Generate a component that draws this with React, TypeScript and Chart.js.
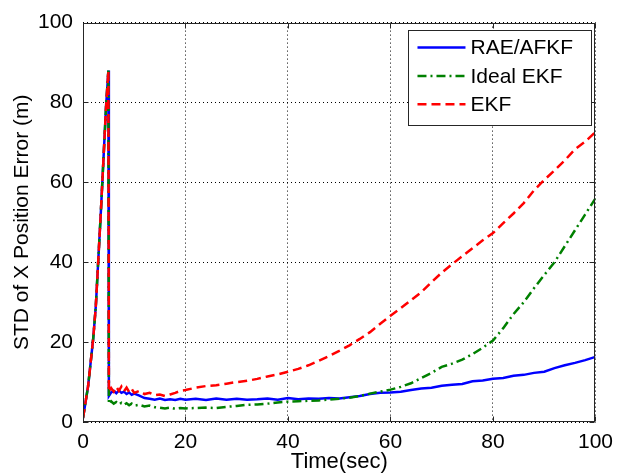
import React, { useEffect, useRef } from "react";
import { Chart, registerables } from "chart.js";

Chart.register(...registerables);

// ---- Data ----
const TIME = [
  0, 0.5, 1, 1.5, 2, 2.5, 3, 3.5, 4, 4.5, 4.95, 5.05,
  5.5, 6, 6.5, 7, 7.5, 8, 8.5, 9, 9.5, 10,
  11, 12, 13, 14, 15, 16, 17, 18, 19, 20,
  22, 24, 26, 28, 30, 32, 34, 36, 38, 40,
  42, 44, 46, 48, 50, 52, 54, 56, 58, 60,
  62, 64, 66, 68, 70, 72, 74, 76, 78, 80,
  82, 84, 86, 88, 90, 92, 94, 96, 98, 100,
];

const RAE_AFKF = [
  1, 5, 9, 15, 21, 29, 41, 53, 66, 79, 88, 6.5,
  7.4, 7.8, 7.2, 7.9, 7.3, 7.6, 7.0, 7.4, 6.8, 7.1,
  6.6, 6.0, 5.8, 5.6, 5.9, 5.5, 5.7, 5.5, 5.8, 5.6,
  5.8, 5.5, 5.9, 5.6, 5.8, 5.6, 5.7, 5.9, 5.6, 6.0,
  5.7, 5.9, 5.8, 6.0, 5.9, 6.2, 6.5, 7.0, 7.3, 7.4,
  7.6, 8.0, 8.4, 8.6, 9.1, 9.3, 9.5, 10.2, 10.4, 10.8,
  11.0, 11.6, 11.8, 12.3, 12.6, 13.5, 14.2, 14.8, 15.5, 16.3,
];

const IDEAL_EKF = [
  1, 5, 9, 15, 21, 29, 41, 53, 66, 79, 88, 4.5,
  5.2, 4.6, 5.0, 4.4, 4.8, 4.3, 4.7, 4.2, 4.6, 4.1,
  4.3, 3.9, 4.1, 3.7, 3.6, 3.4, 3.6, 3.3, 3.5, 3.4,
  3.5, 3.6, 3.5, 3.8, 4.0, 4.3, 4.4, 4.6, 4.9, 5.1,
  5.2, 5.3, 5.4, 5.6, 5.8, 6.1, 6.5, 7.1, 7.6, 8.1,
  8.8, 9.7, 11.0, 12.3, 13.8, 14.6, 15.6, 17.0, 18.6, 20.4,
  23.5, 27.0, 30.0, 33.5, 36.8, 40.0, 44.0, 48.0, 52.0, 56.0,
];

const EKF = [
  1, 5, 9, 15, 21, 29, 41, 53, 66, 79, 88, 7.5,
  8.5, 7.6, 8.8, 7.8, 8.9, 7.7, 8.6, 7.5, 8.3, 7.3,
  7.8, 7.0, 7.3, 6.7, 6.9, 6.5, 6.9, 7.3, 7.8, 8.0,
  8.6, 9.0, 9.2, 9.6, 10.0, 10.3, 10.8, 11.4, 11.9, 12.6,
  13.3, 14.2, 15.3, 16.5, 17.8, 19.2, 20.8, 22.5, 24.6, 26.6,
  28.5, 30.5, 32.5, 35.0, 37.4, 39.5, 41.5, 43.5, 45.5, 47.3,
  49.8, 52.2, 54.8, 58.0, 60.6, 63.0, 65.5, 68.3, 70.2, 72.6,
];

const SERIES_NAMES = ["RAE/AFKF", "Ideal EKF", "EKF"];
const X_TICKS = [0, 20, 40, 60, 80, 100];
const Y_TICKS = [0, 20, 40, 60, 80, 100];
const X_TITLE = "Time(sec)";
const Y_TITLE = "STD of X Position Error (m)";

const FONT = "'Liberation Sans', Arial, Helvetica, sans-serif";
const AXIS_COLOR = "#262626";

const toPoints = (ys: number[]) => TIME.map((t, i) => ({ x: t, y: ys[i] }));

const framePlugin = {
  id: "matlabFrame",
  afterDatasetsDraw(chart: any) {
    const { ctx, chartArea } = chart;
    const xs = chart.scales.x;
    const ys = chart.scales.y;
    const l = Math.round(chartArea.left) + 0.5;
    const r = Math.round(chartArea.right) - 0.5;
    const t = Math.round(chartArea.top) + 0.5;
    const b = Math.round(chartArea.bottom) - 0.5;
    ctx.save();
    ctx.setLineDash([]);
    ctx.strokeStyle = AXIS_COLOR;
    ctx.lineWidth = 1;
    ctx.strokeRect(l, t, r - l, b - t);
    const len = 5;
    ctx.beginPath();
    X_TICKS.forEach((v) => {
      const px = Math.round(xs.getPixelForValue(v)) + 0.5;
      ctx.moveTo(px, b);
      ctx.lineTo(px, b - len);
      ctx.moveTo(px, t);
      ctx.lineTo(px, t + len);
    });
    Y_TICKS.forEach((v) => {
      const py = Math.round(ys.getPixelForValue(v)) + 0.5;
      ctx.moveTo(l, py);
      ctx.lineTo(l + len, py);
      ctx.moveTo(r, py);
      ctx.lineTo(r - len, py);
    });
    ctx.stroke();
    ctx.restore();
  },
};

const legendPlugin = {
  id: "matlabLegend",
  afterDraw(chart: any) {
    const { ctx, chartArea } = chart;
    const boxR = chartArea.right - 4;
    const boxL = boxR - 183;
    const boxT = chartArea.top + 7;
    const boxB = boxT + 95;
    ctx.save();
    ctx.fillStyle = "#ffffff";
    ctx.fillRect(boxL, boxT, boxR - boxL, boxB - boxT);
    ctx.strokeStyle = AXIS_COLOR;
    ctx.lineWidth = 1;
    ctx.setLineDash([]);
    ctx.strokeRect(Math.round(boxL) + 0.5, Math.round(boxT) + 0.5, Math.round(boxR - boxL), Math.round(boxB - boxT));
    chart.data.datasets.forEach((ds: any, i: number) => {
      const cy = boxT + 18 + i * 28.3;
      ctx.beginPath();
      ctx.strokeStyle = ds.borderColor;
      ctx.lineWidth = 2.5;
      ctx.setLineDash(ds.borderDash || []);
      ctx.moveTo(boxL + 9, cy);
      ctx.lineTo(boxL + 57, cy);
      ctx.stroke();
      ctx.setLineDash([]);
      ctx.fillStyle = "#000";
      ctx.font = `21px ${FONT}`;
      ctx.textBaseline = "middle";
      ctx.textAlign = "left";
      ctx.fillText(ds.label, boxL + 62, cy + 1);
    });
    ctx.restore();
  },
};

export default function App() {
  const canvasRef = useRef<HTMLCanvasElement | null>(null);

  useEffect(() => {
    const canvas = canvasRef.current;
    if (!canvas) return;
    const chart = new Chart(canvas, {
      type: "line",
      data: {
        datasets: [
          {
            label: SERIES_NAMES[0],
            data: toPoints(RAE_AFKF),
            borderColor: "#0000ff",
            borderWidth: 2.5,
            borderDash: [],
            pointRadius: 0,
            tension: 0,
            order: 3,
          },
          {
            label: SERIES_NAMES[1],
            data: toPoints(IDEAL_EKF),
            borderColor: "#008000",
            borderWidth: 2.5,
            borderDash: [9, 4, 2, 4],
            pointRadius: 0,
            tension: 0,
            order: 2,
          },
          {
            label: SERIES_NAMES[2],
            data: toPoints(EKF),
            borderColor: "#ff0000",
            borderWidth: 2.5,
            borderDash: [9, 5],
            pointRadius: 0,
            tension: 0,
            order: 1,
          },
        ],
      },
      options: {
        responsive: false,
        animation: false,
        devicePixelRatio: 1,
        layout: { padding: { top: 20, right: 22, left: 0, bottom: 0 } },
        plugins: {
          legend: { display: false },
          tooltip: { enabled: false },
        },
        scales: {
          x: {
            type: "linear",
            min: 0,
            max: 100,
            afterBuildTicks: (s: any) => {
              s.ticks = X_TICKS.map((v) => ({ value: v }));
            },
            afterFit: (s: any) => {
              s.height = 53;
            },
            ticks: {
              color: "#000",
              font: { family: FONT, size: 21 },
              padding: 8,
              maxRotation: 0,
            },
            grid: { color: "#000", lineWidth: 1, drawTicks: false },
            border: { display: false, dash: [1, 3] },
            title: {
              display: true,
              text: X_TITLE,
              color: "#000",
              font: { family: FONT, size: 22 },
              padding: { top: 0, bottom: 0 },
            },
          },
          y: {
            type: "linear",
            min: 0,
            max: 100,
            afterBuildTicks: (s: any) => {
              s.ticks = Y_TICKS.map((v) => ({ value: v }));
            },
            afterFit: (s: any) => {
              s.width = 83;
            },
            ticks: {
              color: "#000",
              font: { family: FONT, size: 21 },
              padding: 10,
            },
            grid: { color: "#000", lineWidth: 1, drawTicks: false },
            border: { display: false, dash: [1, 3] },
            title: {
              display: true,
              text: Y_TITLE,
              color: "#000",
              font: { family: FONT, size: 21 },
              padding: { top: 10, bottom: 0 },
            },
          },
        },
      },
      plugins: [framePlugin, legendPlugin],
    } as any);
    return () => chart.destroy();
  }, []);

  return (
    <div style={{ position: "absolute", left: 0, top: 0, width: 621, height: 475, background: "#fff" }}>
      <canvas ref={canvasRef} width={621} height={475} style={{ display: "block" }} />
    </div>
  );
}
